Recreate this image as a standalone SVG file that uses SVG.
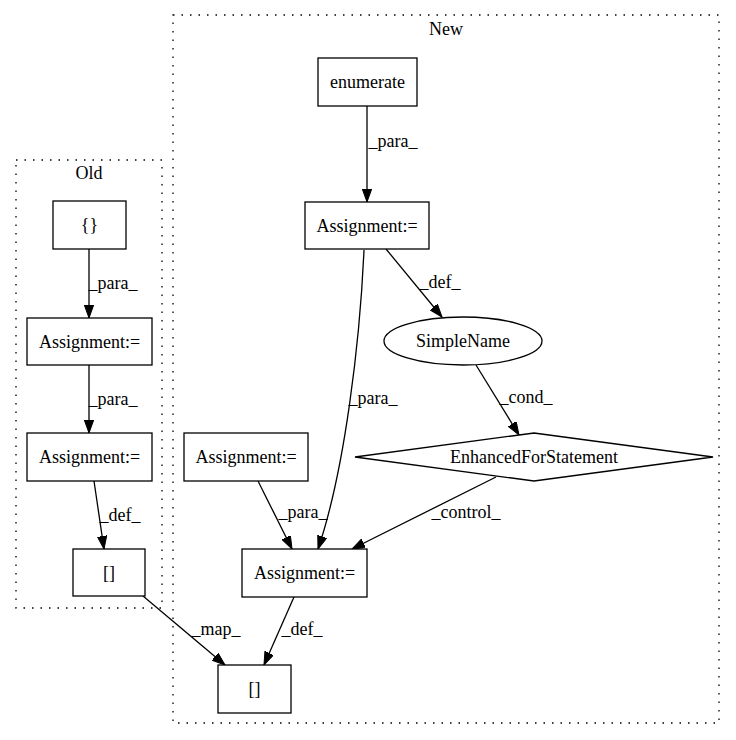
<svg xmlns="http://www.w3.org/2000/svg" width="736" height="740" viewBox="0 0 736 740" font-family="'Liberation Serif', 'DejaVu Serif', serif" font-size="18">
<style>
  text { font-family: 'Liberation Serif', 'DejaVu Serif', serif; font-size: 18px; fill: #000; }
  .node { fill: #fff; stroke: #000; stroke-width: 1.3; }
  .cluster { fill: none; stroke: #000; stroke-width: 1.3; stroke-dasharray: 1.5,7; }
  .edge { fill: none; stroke: #000; stroke-width: 1.3; marker-end: url(#arrow); }
  .c { text-anchor: middle; }
</style>
<defs>
  <marker id="arrow" markerUnits="userSpaceOnUse" markerWidth="14" markerHeight="10" refX="13" refY="4.7" orient="auto">
    <path d="M0,0 L13,4.7 L0,9.4 z" fill="#000" stroke="#000" stroke-width="1"/>
  </marker>
</defs>
<rect width="736" height="740" fill="#fff"/>

<g id="cluster_old">
  <rect class="cluster" x="16" y="160" width="146" height="448"/>
  <text class="c" x="89" y="179">Old</text>
</g>
<g id="cluster_new">
  <rect class="cluster" x="173" y="15" width="546" height="708"/>
  <text class="c" x="446" y="35">New</text>
</g>

<g id="connectors">
  <path class="edge" d="M89,249 L89,318"/>
  <path class="edge" d="M89,365 L89,433"/>
  <path class="edge" d="M94,481 L104,549"/>
  <path class="edge" d="M143,596 L225,665"/>
  <path class="edge" d="M367,106 L367,202"/>
  <path class="edge" d="M386,249 L442,317"/>
  <path class="edge" d="M364,250 C360,340 345,470 318,549"/>
  <path class="edge" d="M476,365 L519,435"/>
  <path class="edge" d="M258,481 L292,549"/>
  <path class="edge" d="M496,477 L352,549"/>
  <path class="edge" d="M294,597 L264,665"/>
  <text class="c" x="113" y="289">_para_</text>
  <text class="c" x="113" y="405">_para_</text>
  <text class="c" x="120" y="521">_def_</text>
  <text class="c" x="216" y="635">_map_</text>
  <text class="c" x="393" y="147">_para_</text>
  <text class="c" x="440" y="288">_def_</text>
  <text class="c" x="373" y="404">_para_</text>
  <text class="c" x="526" y="403">_cond_</text>
  <text class="c" x="303" y="518">_para_</text>
  <text class="c" x="466" y="518">_control_</text>
  <text class="c" x="302" y="635">_def_</text>
</g>

<g id="old_braces">
  <rect class="node" x="53" y="201" width="73" height="48"/>
  <text class="c" x="89.5" y="231">{}</text>
</g>
<g id="old_assign1">
  <rect class="node" x="27" y="318" width="125" height="47"/>
  <text class="c" x="89.5" y="348">Assignment:=</text>
</g>
<g id="old_assign2">
  <rect class="node" x="27" y="433" width="125" height="48"/>
  <text class="c" x="89.5" y="463">Assignment:=</text>
</g>
<g id="old_index">
  <rect class="node" x="73" y="549" width="72" height="47"/>
  <text class="c" x="109" y="579">[]</text>
</g>

<g id="new_enumerate">
  <rect class="node" x="318" y="58" width="99" height="48"/>
  <text class="c" x="367.5" y="88">enumerate</text>
</g>
<g id="new_assign_top">
  <rect class="node" x="305" y="202" width="124" height="47"/>
  <text class="c" x="367" y="232">Assignment:=</text>
</g>
<g id="new_simplename">
  <ellipse class="node" cx="463" cy="341" rx="79" ry="24"/>
  <text class="c" x="463" y="347">SimpleName</text>
</g>
<g id="new_enhancedfor">
  <polygon class="node" points="534,433 713,457 534,481 355,457"/>
  <text class="c" x="534" y="463">EnhancedForStatement</text>
</g>
<g id="new_assign_left">
  <rect class="node" x="184" y="433" width="124" height="48"/>
  <text class="c" x="246" y="463">Assignment:=</text>
</g>
<g id="new_assign_bottom">
  <rect class="node" x="242" y="549" width="125" height="48"/>
  <text class="c" x="304.5" y="579">Assignment:=</text>
</g>
<g id="new_index">
  <rect class="node" x="218" y="665" width="73" height="48"/>
  <text class="c" x="254.5" y="695">[]</text>
</g>
</svg>
